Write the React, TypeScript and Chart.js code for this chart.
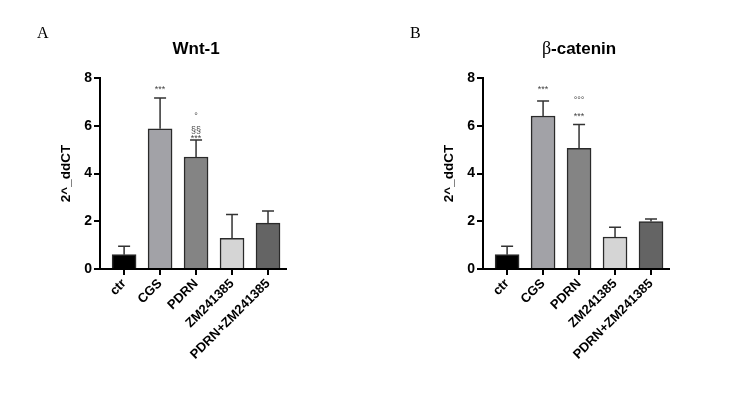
import React, { useEffect, useRef } from "react";
import { Chart, registerables } from "chart.js";
Chart.register(...registerables);

const categories = ["ctr", "CGS", "PDRN", "ZM241385", "PDRN+ZM241385"];
const yTicks = [0, 2, 4, 6, 8];

const wntMeans = [0.6, 5.87, 4.69, 1.28, 1.92];
const wntSD = [0.35, 1.29, 0.71, 1.0, 0.51];
const wntMarkText = [[], ["***"], ["***", "§§", "°"], [], []];
const wntMarkAt = [[], [7.62], [5.57, 5.82, 6.37], [], []];

const catMeans = [0.6, 6.41, 5.05, 1.34, 1.99];
const catSD = [0.35, 0.63, 1.0, 0.41, 0.1];
const catMarkText = [[], ["***"], ["***", "°°°"], [], []];
const catMarkAt = [[], [7.62], [6.49, 7.04], [], []];

const barColors = ["#000000", "#a2a2a7", "#848484", "#d5d5d5", "#646464"];

const SANS = "'Liberation Sans', Arial, sans-serif";

type PanelProps = {
  letter: string;
  letterX: number;
  titleParts: { text: string; serif: boolean }[];
  means: number[];
  sds: number[];
  markText: string[][];
  markAt: number[][];
  areaLeft: number;
  left: number;
};

function Panel(p: PanelProps) {
  const ref = useRef<HTMLCanvasElement | null>(null);
  useEffect(() => {
    const canvas = ref.current!;
    const W = 376, H = 393;
    const yW = 45, xH = 100;
    const areaTop = 78, areaBottom = 269, areaWidth = 186;
    const deco = {
      id: "deco",
      afterDatasetsDraw(chart: any) {
        const ctx = chart.ctx;
        const ys = chart.scales.y;
        const meta = chart.getDatasetMeta(0);
        ctx.save();
        ctx.strokeStyle = "#333";
        ctx.lineWidth = 1.5;
        meta.data.forEach((bar: any, i: number) => {
          const top = ys.getPixelForValue(p.means[i]);
          const eTop = ys.getPixelForValue(p.means[i] + p.sds[i]);
          ctx.beginPath();
          ctx.moveTo(bar.x, top);
          ctx.lineTo(bar.x, eTop);
          ctx.moveTo(bar.x - 6, eTop);
          ctx.lineTo(bar.x + 6, eTop);
          ctx.stroke();
          p.markText[i].forEach((t, k) => {
            const y = ys.getPixelForValue(p.markAt[i][k]);
            ctx.fillStyle = "#444";
            ctx.font = `9px ${SANS}`;
            ctx.textAlign = "center";
            ctx.textBaseline = "middle";
            ctx.fillText(t, bar.x, y + (t.includes("*") ? 2 : 0));
          });
        });
        ctx.restore();
      },
      afterDraw(chart: any) {
        const ctx = chart.ctx;
        const meta = chart.getDatasetMeta(0);
        const cx = (meta.data[0].x + meta.data[meta.data.length - 1].x) / 2;
        ctx.save();
        ctx.fillStyle = "#000";
        ctx.textBaseline = "alphabetic";
        ctx.font = `16px 'Liberation Serif', serif`;
        ctx.textAlign = "left";
        ctx.fillText(p.letter, p.letterX, 38);
        const fonts = p.titleParts.map((tp) =>
          tp.serif ? `18px 'Liberation Serif', serif` : `bold 17px ${SANS}`
        );
        let total = 0;
        p.titleParts.forEach((tp, i) => {
          ctx.font = fonts[i];
          total += ctx.measureText(tp.text).width;
        });
        let x = cx - total / 2;
        p.titleParts.forEach((tp, i) => {
          ctx.font = fonts[i];
          ctx.fillText(tp.text, x, 54);
          x += ctx.measureText(tp.text).width;
        });
        ctx.restore();
      },
    };
    const chart = new Chart(canvas, {
      type: "bar",
      data: {
        datasets: [
          {
            data: p.means.map((v, i) => ({ x: i, y: v })),
            backgroundColor: barColors,
            borderColor: "#2a2a2a",
            borderWidth: 1.5,
            barThickness: 24,
          } as any,
        ],
      },
      options: {
        animation: false,
        responsive: false,
        devicePixelRatio: 1,
        layout: {
          padding: {
            left: p.areaLeft - yW,
            top: areaTop,
            right: W - p.areaLeft - areaWidth,
            bottom: H - areaBottom - xH,
          },
        },
        plugins: { legend: { display: false }, tooltip: { enabled: false }, title: { display: false } },
        scales: {
          x: {
            type: "linear",
            offset: false,
            min: -0.67,
            max: 4.5,
            afterBuildTicks: (s: any) => {
              s.ticks = categories.map((_, i) => ({ value: i }));
            },
            afterFit: (s: any) => {
              s.height = xH;
            },
            ticks: {
              autoSkip: false,
              maxRotation: 45,
              minRotation: 45,
              padding: 1,
              color: "#000",
              font: { family: SANS, weight: "bold", size: 13 },
              callback: (_v: any, i: number) => categories[i],
            },
            grid: { offset: false, drawOnChartArea: false, drawTicks: true, tickLength: 6, lineWidth: 2, color: "#000" },
            border: { width: 2, color: "#000" },
          },
          y: {
            min: 0,
            max: 8,
            afterBuildTicks: (s: any) => {
              s.ticks = yTicks.map((v) => ({ value: v }));
            },
            afterFit: (s: any) => {
              s.width = yW;
            },
            ticks: {
              padding: 2,
              color: "#000",
              font: { family: SANS, weight: "bold", size: 14 },
            },
            title: {
              display: true,
              text: "2^_ddCT",
              color: "#000",
              font: { family: SANS, weight: "bold", size: 13.5 },
              padding: { top: 3, bottom: 2 },
            },
            grid: { drawOnChartArea: false, drawTicks: true, tickLength: 6, lineWidth: 2, color: "#000" },
            border: { width: 2, color: "#000" },
          },
        } as any,
      },
      plugins: [deco],
    } as any);
    return () => chart.destroy();
  }, []);
  return (
    <canvas
      ref={ref}
      width={376}
      height={393}
      style={{ position: "absolute", left: p.left, top: 0, width: 376, height: 393 }}
    />
  );
}

export default function App() {
  return (
    <div style={{ position: "fixed", left: 0, top: 0, width: 752, height: 393, background: "#fff" }}>
      <Panel
        letter="A"
        letterX={37}
        titleParts={[{ text: "Wnt-1", serif: false }]}
        means={wntMeans}
        sds={wntSD}
        markText={wntMarkText}
        markAt={wntMarkAt}
        areaLeft={100}
        left={0}
      />
      <Panel
        letter="B"
        letterX={34}
        titleParts={[
          { text: "β", serif: true },
          { text: "-catenin", serif: false },
        ]}
        means={catMeans}
        sds={catSD}
        markText={catMarkText}
        markAt={catMarkAt}
        areaLeft={107}
        left={376}
      />
    </div>
  );
}
